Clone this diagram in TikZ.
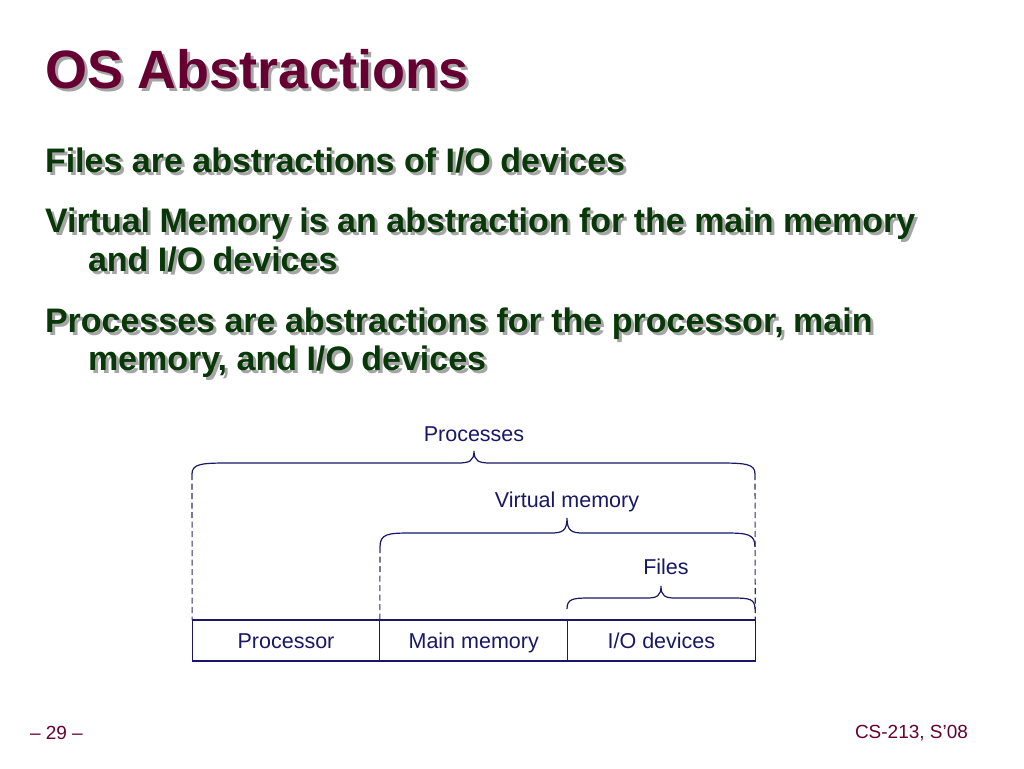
\documentclass[tikz,border=0pt]{standalone}
\usepackage{fontspec}
\setmainfont{Liberation Sans}
\definecolor{titlecol}{RGB}{102,0,51}
\definecolor{bodycol}{RGB}{8,56,8}
\definecolor{shadowcol}{RGB}{165,165,165}
\definecolor{navy}{RGB}{24,24,102}
\tikzset{
  txt/.style={anchor=base west, inner sep=0pt, outer sep=0pt},
  titletxt/.style={txt, font=\bfseries\fontsize{54}{60}\selectfont},
  bodytxt/.style={txt, font=\bfseries\fontsize{34}{40}\selectfont},
  foottxt/.style={txt, text=titlecol, font=\fontsize{19}{22}\selectfont},
  cell/.style={draw=navy, line width=1.2pt, text=navy, minimum width=187.7pt, minimum height=41pt, inner sep=0pt, outer sep=0pt, text height=18pt, text depth=3pt, font=\fontsize{21.5}{24}\selectfont},
  lbl/.style={text=navy, inner sep=0pt, font=\fontsize{21.5}{24}\selectfont},
  brace/.style={draw=navy, line width=1.2pt},
  guide/.style={draw=navy!80!gray, line width=1.1pt, dash pattern=on 6pt off 3.5pt},
}
% shadowed text: name, x, y, colour, style, text
\newcommand{\shtext}[6]{%
  \node[#5, text=shadowcol] (#1-s) at (#2+3,#3+3) {#6};
  \node[#5, text=#4] (#1) at (#2,#3) {#6};}
% brace: xa, xb, xm, yend, yh, ytip, corner width, tip width
\newcommand{\bracep}[8]{%
  \draw[brace] (#1,#4) .. controls (#1,#5+1) and (#1+#7*0.25,#5) .. (#1+#7,#5)
    -- (#3-#8,#5) .. controls (#3-#8*0.3,#5) and (#3,#5-2) .. (#3,#6)
    .. controls (#3,#5-2) and (#3+#8*0.3,#5) .. (#3+#8,#5)
    -- (#2-#7,#5) .. controls (#2-#7*0.25,#5) and (#2,#5+1) .. (#2,#4);}
\begin{document}
\begin{tikzpicture}[x=1pt,y=-1pt]
\useasboundingbox (0,0) rectangle (1024,768);
\fill[white] (0,0) rectangle (1024,768);
% title
\shtext{title}{45}{88}{titlecol}{titletxt}{OS Abstractions}
% body
\shtext{b1}{45}{172}{bodycol}{bodytxt}{Files are abstractions of I/O devices}
\shtext{b2}{45}{232}{bodycol}{bodytxt}{Virtual Memory is an abstraction for the main memory}
\shtext{b2b}{88}{271}{bodycol}{bodytxt}{and I/O devices}
\shtext{b3}{45}{332}{bodycol}{bodytxt}{Processes are abstractions for the processor, main}
\shtext{b3b}{88}{370}{bodycol}{bodytxt}{memory, and I/O devices}
% boxes
\node[cell] (proc) at (286,640.5) {Processor};
\node[cell, anchor=west] (mem) at (proc.east) {Main memory};
\node[cell, anchor=west] (io) at (mem.east) {I/O devices};
% labels
\node[lbl] (lproc) at (474,434) {Processes};
\node[lbl] (lvm) at (567,502) {Virtual memory};
\node[lbl] (lfiles) at (666,567) {Files};
% braces
\bracep{192}{755}{474}{474}{463}{451}{36}{16}
\bracep{380}{755}{567}{547}{533}{518}{30}{16}
\bracep{567}{755}{661}{609}{598}{586}{22}{14}
% dashed guides
\coordinate (d1) at (192,474);
\coordinate (d2) at (755,474);
\coordinate (d3) at (380,547);
\draw[guide] (d1) -- (proc.north west);
\draw[guide] (d2) -- (io.north east);
\draw[guide] (d3) -- (mem.north west);
% footer
\node[foottxt] (page) at (30,739) {– 29 –};
\node[foottxt, anchor=base east] (course) at (968,738) {CS-213, S’08};
\end{tikzpicture}
\end{document}
